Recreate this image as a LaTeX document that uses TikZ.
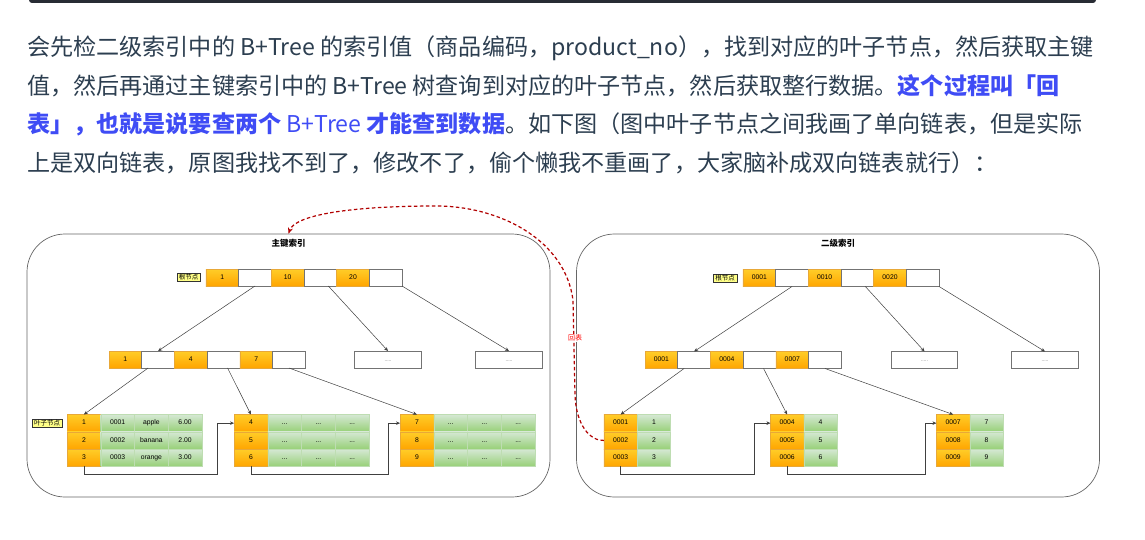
\documentclass[tikz,border=0pt]{standalone}
\usepackage{fontspec}
\setmainfont{Liberation Sans}
\newfontfamily\cjk{Noto Sans CJK SC}
\usetikzlibrary{positioning,arrows.meta}
\definecolor{keytop}{HTML}{FFCD28}
\definecolor{keybot}{HTML}{FFA500}
\definecolor{keyline}{HTML}{E8A838}
\definecolor{rowtop}{HTML}{D5E8D4}
\definecolor{rowbot}{HTML}{97D077}
\definecolor{rowline}{HTML}{BEDDB2}
\definecolor{tagfill}{HTML}{FFFF88}
\definecolor{ink}{HTML}{2C3E50}
\definecolor{hilite}{HTML}{3F4CF5}
\definecolor{backred}{HTML}{B20000}
\definecolor{codebar}{HTML}{282C34}

\begin{document}
\begin{tikzpicture}[x=1pt,y=-1pt,
        para/.style={font=\cjk\fontsize{23.1}{27}\selectfont, text=ink, inner sep=0pt, anchor=base west},
        cell/.style={rectangle, inner sep=0pt, outer sep=0pt, font=\fontsize{6.8}{7}\selectfont, text=black, text height=4.9pt, text depth=1.4pt},
        keycell/.style={cell, draw=keyline, top color=keytop, bottom color=keybot, minimum width=32.7pt, minimum height=17pt},
        ptrcell/.style={cell, draw=black!55, fill=white, line width=0.8pt, minimum width=32.7pt, minimum height=17pt},
        datacell/.style={cell, draw=rowline, top color=rowtop, bottom color=rowbot, minimum width=33.75pt, minimum height=17.3pt},
        dotcell/.style={ptrcell, minimum width=66.5pt, font=\fontsize{5}{5}\selectfont, text=black!60},
        notetag/.style={draw=black!80, fill=tagfill, inner xsep=2pt, inner ysep=1pt, font=\cjk\fontsize{6.5}{7}\selectfont},
        indexbox/.style={draw=black!60, rounded corners=38pt, line width=0.7pt, minimum width=523pt, minimum height=263pt},
        boxtitle/.style={font=\cjk\bfseries\fontsize{8.5}{9}\selectfont},
        ptrarrow/.style={-{Stealth[length=4pt,width=3.5pt]}, draw=black!75, line width=0.5pt},
        backarrow/.style={-{Stealth[length=6pt,width=5pt]}, draw=backred, dash pattern=on 3.5pt off 2.5pt, line width=1.2pt}
    ]
    \useasboundingbox (0,0) rectangle (1145,540);
    \fill[white] (0,0) rectangle (1145,540);
    \fill[codebar, rounded corners=3pt] (29,-6) rectangle (1096,3);

    % text above the figure
    \node[para] (line1) at (27,56) {会先检二级索引中的 B+Tree 的索引值（商品编码，product\_no），找到对应的叶子节点，然后获取主键};
    \node[para] (line2) at (27,95) {值，然后再通过主键索引中的 B+Tree 树查询到对应的叶子节点，然后获取整行数据。{\bfseries\color{hilite}这个过程叫「回}};
    \node[para] (line3) at (27,133) {{\color{hilite}{\bfseries 表」，也就是说要查两个} B+Tree {\bfseries 才能查到数据}}。如下图（图中叶子节点之间我画了单向链表，但是实际};
    \node[para] (line4) at (27,172) {上是双向链表，原图我找不到了，修改不了，偷个懒我不重画了，大家脑补成双向链表就行）：};

    % the two trees
    \node[indexbox] (pk) at (288.5,365.5) {};
    \node[indexbox] (sk) at (838,365.5) {};
    \node[boxtitle] (pk-t) at (288.5,243) {主键索引};
    \node[boxtitle] (sk-t) at (838,243) {二级索引};
    \node[notetag] (pk-root) at (188.5,277.5) {根节点};
    \node[notetag] (sk-root) at (725,278) {根节点};
    \node[notetag] (pk-leaf) at (47,423) {叶子节点};

    % primary key index
    \foreach \t [count=\i] in {1,{},10,{},20,{}} {
        \ifodd\i \node[keycell] (pr\i) at ({206+(\i-0.5)*32.67},277.5) {\t};
        \else \node[ptrcell] (pr\i) at ({206+(\i-0.5)*32.67},277.5) {}; \fi
    }
    \foreach \t [count=\i] in {1,{},4,{},7,{}} {
        \ifodd\i \node[keycell] (pa\i) at ({109+(\i-0.5)*32.73},359.5) {\t};
        \else \node[ptrcell] (pa\i) at ({109+(\i-0.5)*32.73},359.5) {}; \fi
    }
    \node[dotcell] (pdot1) at (388,359.5) {.....};
    \node[dotcell] (pdot2) at (509,359.5) {.....};
    \foreach \x [count=\j] in {67,234,400} {
        \foreach \i in {1,2,3} {
            \pgfmathtruncatemacro\k{3*(\j-1)+\i}
            \node[keycell, minimum width=33.75pt, minimum height=17.3pt] (pl\j-\i) at ({\x+16.9},{414.5+(\i-0.5)*17.3}) {\k};
        }
    }
    \foreach \a/\b/\c [count=\i] in {0001/apple/6.00,0002/banana/2.00,0003/orange/3.00} {
        \node[datacell] (pv1-\i-1) at (117.6,{414.5+(\i-0.5)*17.3}) {\a};
        \node[datacell] (pv1-\i-2) at (151.4,{414.5+(\i-0.5)*17.3}) {\b};
        \node[datacell] (pv1-\i-3) at (185.1,{414.5+(\i-0.5)*17.3}) {\c};
    }
    \foreach \x [count=\j from 2] in {234,400} {
        \foreach \i in {1,2,3} {
            \foreach \c in {1,2,3} {
                \node[datacell] (pv\j-\i-\c) at ({\x+16.9+33.75*\c},{414.5+(\i-0.5)*17.3}) {...};
            }
        }
    }

    % secondary index
    \foreach \t [count=\i] in {0001,{},0010,{},0020,{}} {
        \ifodd\i \node[keycell] (sr\i) at ({743+(\i-0.5)*32.67},278) {\t};
        \else \node[ptrcell] (sr\i) at ({743+(\i-0.5)*32.67},278) {}; \fi
    }
    \foreach \t [count=\i] in {0001,{},0004,{},0007,{}} {
        \ifodd\i \node[keycell] (sa\i) at ({645+(\i-0.5)*32.73},360) {\t};
        \else \node[ptrcell] (sa\i) at ({645+(\i-0.5)*32.73},360) {}; \fi
    }
    \node[dotcell] (sdot1) at (924.5,360) {.....};
    \node[dotcell] (sdot2) at (1045,360) {.....};
    \foreach \x [count=\j] in {604,770.5,936.5} {
        \foreach \i in {1,2,3} {
            \pgfmathtruncatemacro\k{3*(\j-1)+\i}
            \node[keycell, minimum width=33.3pt, minimum height=17.3pt] (sl\j-\i) at ({\x+16.6},{414.5+(\i-0.5)*17.3}) {000\k};
            \node[datacell, minimum width=33.3pt] (sv\j-\i) at ({\x+49.9},{414.5+(\i-0.5)*17.3}) {\k};
        }
    }

    % pointers
    \draw[ptrarrow] (pr2.south) -- (pa2.north);
    \draw[ptrarrow] ([xshift=8pt]pr4.south) -- (pdot1.north);
    \draw[ptrarrow] (pr6.south east) -- (pdot2.north);
    \draw[ptrarrow] ([xshift=-10pt]pa2.south) -- (pl1-1.north);
    \draw[ptrarrow] ([xshift=4pt]pa4.south) -- (pl2-1.north);
    \draw[ptrarrow] (pa6.south) -- (pl3-1.north);
    \draw[ptrarrow] (pl1-3.south) -- ++(0,8) -| ([xshift=-16.4pt]pl2-1.west) -- (pl2-1.west);
    \draw[ptrarrow] (pl2-3.south) -- ++(0,8) -| ([xshift=-12pt]pl3-1.west) -- (pl3-1.west);

    \draw[ptrarrow] (sr2.south) -- (sa2.north);
    \draw[ptrarrow] ([xshift=8pt]sr4.south) -- (sdot1.north);
    \draw[ptrarrow] (sr6.south east) -- (sdot2.north);
    \draw[ptrarrow] ([xshift=-10pt]sa2.south) -- (sl1-1.north);
    \draw[ptrarrow] ([xshift=4pt]sa4.south) -- (sl2-1.north);
    \draw[ptrarrow] (sa6.south) -- (sl3-1.north);
    \draw[ptrarrow] (sl1-3.south) -- ++(0,8) -| ([xshift=-16.5pt]sl2-1.west) -- (sl2-1.west);
    \draw[ptrarrow] (sl2-3.south) -- ++(0,8) -| ([xshift=-11.5pt]sl3-1.west) -- (sl3-1.west);

    % back to the table
    \draw[backarrow] (sl1-2.west) .. controls (590,441) and (576,425) .. (575,395) -- (573,300)
        .. controls (565,240) and (500,206) .. (436,206) .. controls (350,206) and (295,215) .. (pk.north);
    \node[font=\cjk\fontsize{7}{7}\selectfont, text=red, fill=white, inner sep=0.5pt] (huibiao) at (575,338) {回表};
\end{tikzpicture}
\end{document}
